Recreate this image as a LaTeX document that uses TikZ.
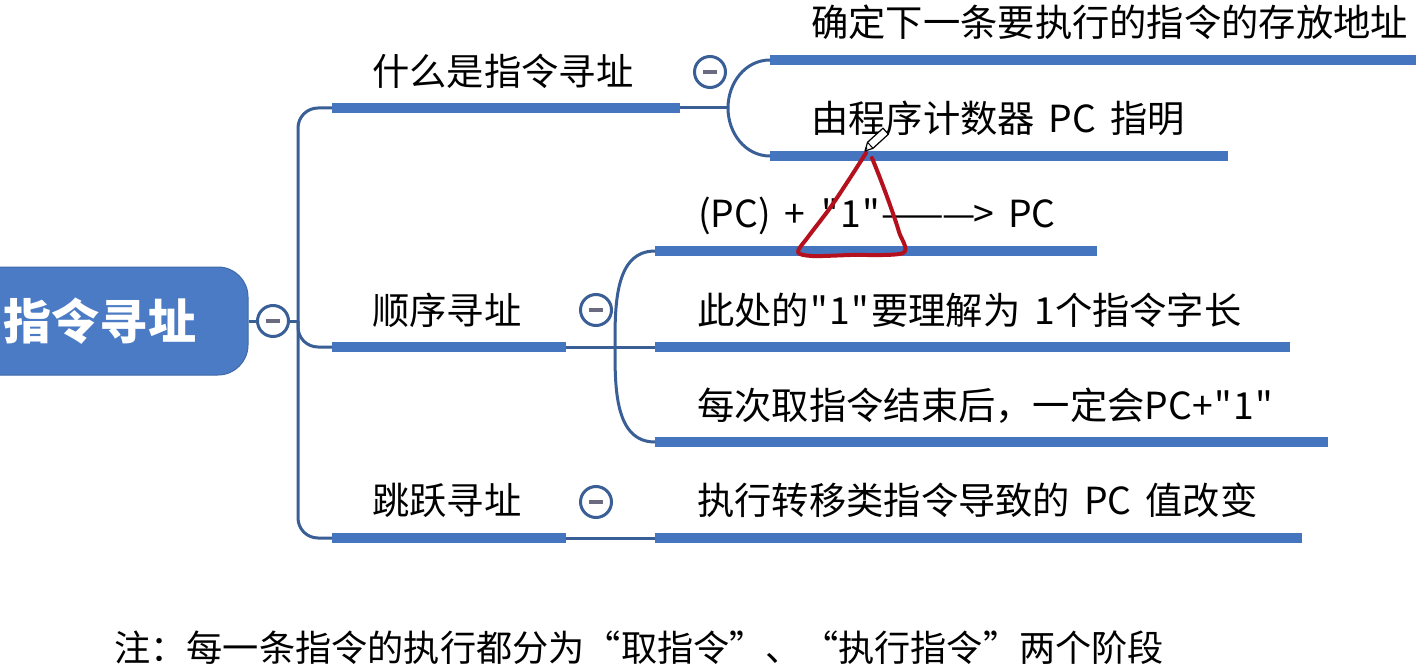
\documentclass[tikz,border=0pt]{standalone}
\usepackage{fontspec}
\setmainfont{Noto Sans CJK SC}[Ligatures=TeXOff]
\definecolor{barblue}{HTML}{4675C0}
\definecolor{lineblue}{HTML}{3A5F96}
\definecolor{rootblue}{HTML}{4A7BC4}
\definecolor{minusgray}{HTML}{6B6B80}
\definecolor{annred}{HTML}{B5101E}
\newcommand\qq{\kern1.5pt"\kern1.5pt}
\newcommand\lblfont{\fontsize{37.3}{40}\selectfont\spaceskip 14pt\relax}
\begin{document}
\begin{tikzpicture}[x=1pt,y=-1pt,
  bar/.style={line width=10pt, draw=barblue},
  conn/.style={line width=3pt, draw=lineblue},
  lbl/.style={anchor=west, inner sep=0pt, font=\lblfont},
  minusbtn/.style={circle, draw=lineblue, line width=3pt, fill=white,
    minimum size=31pt, inner sep=0pt,
    path picture={\draw[line width=3.5pt, draw=minusgray]
      ([xshift=-7pt]path picture bounding box.center) --
      ([xshift=7pt]path picture bounding box.center);}},
  ann/.style={draw=annred, line width=4pt, line cap=round, line join=round}
]
\useasboundingbox (0,0) rectangle (1416,666);
\clip (0,0) rectangle (1416,666);
\fill[white] (0,0) rectangle (1416,666);

% root
\node (root) [fill=rootblue, draw=rootblue!85!black, line width=1pt,
  rounded corners=30pt, minimum width=320pt, minimum height=108pt,
  inner sep=0pt] at (88,321) {};
\node (rootlabel) [inner sep=0pt, text=white,
  font=\fontsize{48}{50}\selectfont\bfseries] at (100,321) {指令寻址};

% minus buttons
\node (m0) [minusbtn] at (273,321) {};
\node (m1) [minusbtn] at (710,72) {};
\node (m2) [minusbtn] at (596,310) {};
\node (m3) [minusbtn] at (596,502) {};

% coordinates
\coordinate (T) at (298,321);
\coordinate (b1a) at (332,108); \coordinate (b1b) at (680,108);
\coordinate (b2a) at (332,347); \coordinate (b2b) at (566,347);
\coordinate (b3a) at (332,538); \coordinate (b3b) at (566,538);
\coordinate (k1) at (728,108);
\coordinate (k2) at (615,347);
\coordinate (s11a) at (770,60);  \coordinate (s11b) at (1420,60);
\coordinate (s12a) at (770,156); \coordinate (s12b) at (1228,156);
\coordinate (s21a) at (655,251); \coordinate (s21b) at (1097,251);
\coordinate (s22a) at (655,347); \coordinate (s22b) at (1290,347);
\coordinate (s23a) at (655,442); \coordinate (s23b) at (1328,442);
\coordinate (s31a) at (655,538); \coordinate (s31b) at (1302,538);

% connectors
\draw[conn] (root.east |- T) -- (m0.west);
\draw[conn] (m0.east) -- (T);
\draw[conn, rounded corners=20pt] (b1a) -| (T) |- (b3a);
\draw[conn, rounded corners=20pt] (T) |- (b2a);
\draw[conn] (b1b) -- (k1);
\draw[conn] (k1) to[out=90,in=180] (s11a);
\draw[conn] (k1) to[out=-90,in=180] (s12a);
\draw[conn] (b2b) -- (s22a);
\draw[conn] (k2) to[out=90,in=180] (s21a);
\draw[conn] (k2) to[out=-90,in=180] (s23a);
\draw[conn] (b3b) -- (s31a);

% bars
\foreach \a/\b in {b1a/b1b,b2a/b2b,b3a/b3b,s11a/s11b,s12a/s12b,s21a/s21b,s22a/s22b,s23a/s23b,s31a/s31b}
  \draw[bar] (\a) -- (\b);

% labels
\node (l1) [lbl] at (372,71) {什么是指令寻址};
\node (l2) [lbl] at (372,310) {顺序寻址};
\node (l3) [lbl] at (372,500) {跳跃寻址};
\node (t11) [lbl] at (811,22) {确定下一条要执行的指令的存放地址};
\node (t12) [lbl] at (811,118) {由程序计数器 PC 指明};
\node (t21) [lbl] at (698,216) {(PC) + \qq 1\qq——\kern-2pt—\kern-2pt> PC};
\node (t22) [lbl] at (697,310) {此处的\qq 1\qq 要理解为 1个指令字长};
\node (t23) [lbl] at (697,406) {每次取指令结束后，一定会PC+\qq 1\qq};
\node (t31) [lbl] at (697,500) {执行转移类指令导致的 PC 值改变};
\node (note) [lbl, font=\fontsize{36.2}{40}\selectfont] at (114,648) {注：每一条指令的执行都分为“取指令”、“执行指令”两个阶段};

% red hand-drawn triangle
\draw[ann] plot[smooth, tension=0.5] coordinates {(866,153) (850,178) (830,208) (808,237) (798,252) (812,256) (850,255) (903,253) (899,232) (890,205) (880,178) (872,158)};

% pencil cursor
\draw[black, line width=1.2pt, fill=white, line join=round]
  (865,151) -- (873,148.3) -- (888.4,134.2) -- (883,128.2) -- (867.5,142.3) -- cycle;
\draw[black, line width=1pt] (873,148.3) -- (867.5,142.3);
\fill[black] (865,151) -- (867.3,148.3) -- (866.7,146.7) -- cycle;
\end{tikzpicture}
\end{document}
